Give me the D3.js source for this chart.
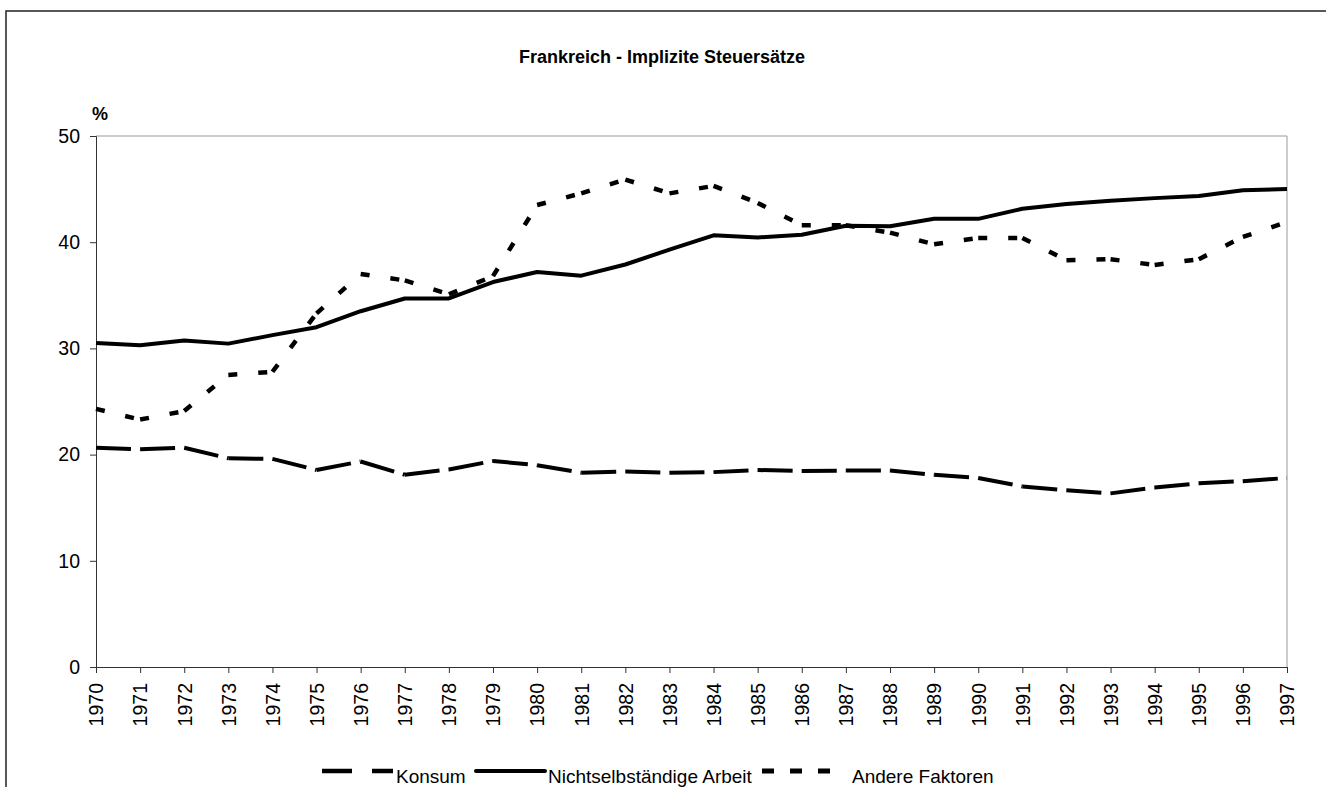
<!DOCTYPE html>
<html>
<head>
<meta charset="utf-8">
<script src="https://cdnjs.cloudflare.com/ajax/libs/d3/7.8.5/d3.min.js"></script>
<style>
  html, body { margin: 0; padding: 0; background: #fff; }
  svg { display: block; font-family: "Liberation Sans", Arial, sans-serif; }
</style>
</head>
<body>
<svg id="chart"></svg>
<script>
// Chart data.
const years = d3.range(1970, 1998);
const konsum = [20.65, 20.5, 20.65, 19.65, 19.6, 18.55, 19.35, 18.1, 18.6, 19.4,
  19.0, 18.3, 18.4, 18.3, 18.35, 18.55, 18.45, 18.5, 18.5, 18.1,
  17.8, 17.0, 16.65, 16.35, 16.9, 17.3, 17.5, 17.8];
const arbeit = [30.5, 30.3, 30.75, 30.45, 31.25, 32.0, 33.5, 34.7, 34.7, 36.25,
  37.2, 36.85, 37.9, 39.3, 40.65, 40.45, 40.7, 41.55, 41.5, 42.2,
  42.2, 43.15, 43.6, 43.9, 44.15, 44.35, 44.9, 45.0];
const andere = [24.3, 23.3, 24.1, 27.5, 27.8, 33.3, 37.0, 36.4, 35.1, 36.8,
  43.5, 44.6, 45.9, 44.6, 45.3, 43.7, 41.6, 41.6, 40.9, 39.8,
  40.4, 40.4, 38.3, 38.4, 37.85, 38.4, 40.5, 41.9];
const yTicks = [0, 10, 20, 30, 40, 50];

const seriesNames = ["Konsum", "Nichtselbständige Arbeit", "Andere Faktoren"];

const W = 1326, H = 787;
const svg = d3.select("#chart").attr("width", W).attr("height", H);

// outer frame (runs off the right and bottom edge)
svg.append("rect")
  .attr("x", 6).attr("y", 11)
  .attr("width", W + 20).attr("height", H + 20)
  .attr("fill", "none").attr("stroke", "#222").attr("stroke-width", 1.5);

// plot area
const plotL = 96, plotR = 1287, plotT = 136, plotB = 667;

const x = d3.scalePoint().domain(years).range([plotL, plotR]);
const y = d3.scaleLinear().domain([0, 50]).range([plotB, plotT]);

// gray top / right border of plot area
svg.append("path")
  .attr("d", `M${plotL},${plotT}H${plotR}V${plotB}`)
  .attr("fill", "none").attr("stroke", "#9a9a9a").attr("stroke-width", 1);

// title
svg.append("text")
  .attr("x", 662).attr("y", 63)
  .attr("text-anchor", "middle")
  .attr("font-size", 18).attr("font-weight", "bold")
  .text("Frankreich - Implizite Steuersätze");

svg.append("text")
  .attr("x", 92).attr("y", 120)
  .attr("font-size", 18).attr("font-weight", "bold")
  .text("%");

const tickFont = 19.5;

// y axis
const yAxis = d3.axisLeft(y).tickValues(yTicks).tickSize(6).tickPadding(10);
const gy = svg.append("g").attr("transform", `translate(${plotL},0)`).call(yAxis);
gy.select(".domain").attr("stroke", "#333");
gy.selectAll(".tick line").attr("stroke", "#333");
gy.selectAll(".tick text").attr("font-size", tickFont).attr("fill", "#000")
  .attr("font-family", "'Liberation Sans', Arial, sans-serif");

// x axis
const xAxis = d3.axisBottom(x).tickSize(6).tickPadding(6);
const gx = svg.append("g").attr("transform", `translate(0,${plotB})`).call(xAxis);
gx.select(".domain").attr("stroke", "#333");
gx.selectAll(".tick line").attr("stroke", "#333");
gx.selectAll(".tick text")
  .attr("font-size", tickFont).attr("fill", "#000")
  .attr("font-family", "'Liberation Sans', Arial, sans-serif")
  .attr("text-anchor", "end")
  .attr("transform", "rotate(-90)")
  .attr("x", -16).attr("y", 0).attr("dy", "0.35em");

// Each segment is drawn on its own so the dash pattern restarts at every point,
// as the original does.
function drawSeries(values, dash, width) {
  const pts = years.map((yr, i) => [x(yr), y(values[i])]);
  const g = svg.append("g");
  if (!dash) {
    g.append("path")
      .attr("d", d3.line()(pts))
      .attr("fill", "none").attr("stroke", "#000")
      .attr("stroke-width", width).attr("stroke-linejoin", "round");
    return;
  }
  g.selectAll("line").data(d3.pairs(pts)).join("line")
    .attr("x1", d => d[0][0]).attr("y1", d => d[0][1])
    .attr("x2", d => d[1][0]).attr("y2", d => d[1][1])
    .attr("stroke", "#000").attr("stroke-width", width)
    .attr("stroke-dasharray", dash);
}

drawSeries(konsum, "35,9", 4);
drawSeries(andere, "9,21", 4.5);
drawSeries(arbeit, null, 4);

// legend
const legend = [
  { name: seriesNames[0], x1: 322, x2: 393, tx: 396, dash: "30,20", w: 4.5 },
  { name: seriesNames[1], x1: 476, x2: 545, tx: 548, dash: null, w: 4 },
  { name: seriesNames[2], x1: 762, x2: 834, tx: 852, dash: "12,16", w: 5 }
];
const lg = svg.append("g");
legend.forEach(d => {
  lg.append("line")
    .attr("x1", d.x1).attr("x2", d.x2).attr("y1", 771).attr("y2", 771)
    .attr("stroke", "#000").attr("stroke-width", d.w)
    .attr("stroke-dasharray", d.dash)
    .attr("stroke-linecap", d.dash ? "butt" : "round");
  lg.append("text")
    .attr("x", d.tx).attr("y", 783)
    .attr("font-size", 19)
    .text(d.name);
});
</script>
</body>
</html>
